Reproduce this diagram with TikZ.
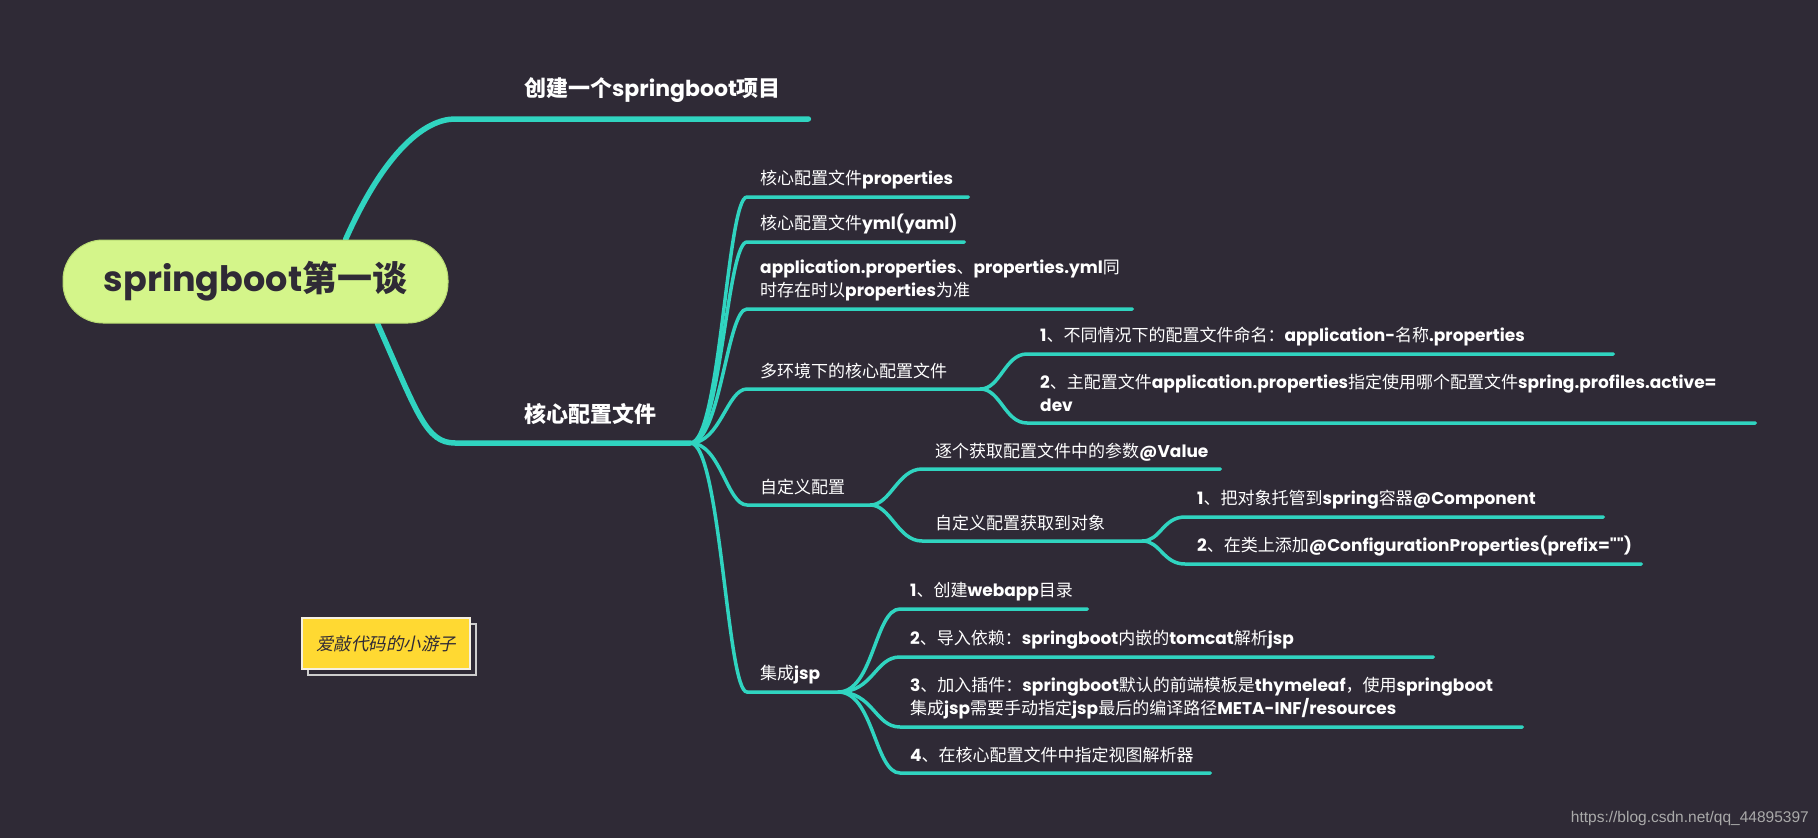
\documentclass[tikz,border=0pt]{standalone}
\usepackage{fontspec}
\setmainfont{Poppins}
\newfontfamily\rawpop{Poppins}[Ligatures=NoCommon]
\newfontfamily\zh{Noto Sans CJK SC}
\newfontfamily\zhit{Noto Sans CJK SC}[FakeSlant=0.2]
\newfontfamily\wmfont{Liberation Sans}
\pgfdeclarelayer{bg}
\pgfdeclarelayer{edges}
\pgfsetlayers{bg,edges,main}
\definecolor{bgcol}{RGB}{47,42,54}
\definecolor{teal}{RGB}{48,212,192}
\definecolor{rootgreen}{RGB}{212,245,138}
\definecolor{rootedge}{RGB}{185,220,115}
\definecolor{darktext}{RGB}{47,42,54}
\definecolor{noteyellow}{RGB}{255,217,50}
\definecolor{noteedge}{RGB}{245,240,225}
\definecolor{shadowgray}{RGB}{205,205,205}
\definecolor{wmgray}{RGB}{170,170,170}
\newcommand\Z[1]{{\zh\mdseries #1}}
\newcommand\ZB[1]{{\zh\bfseries #1}}
\newcommand\dpstrut{\vrule width 0pt height 0pt depth 4pt\relax}
\newcommand\sq{{\rawpop\symbol{34}}}
\hyphenpenalty=10000
\exhyphenpenalty=10000
\tikzset{
  mainconn/.style={draw=teal, line width=5.5pt, line cap=round},
  conn/.style={draw=teal, line width=3.5pt, line cap=round},
  sub/.style 2 args={anchor=south west, inner xsep=#1, text width=#2,
    inner ysep=7.5pt, align=left, text=white,
    font=\fontsize{17}{23}\selectfont\bfseries},
  maintopic/.style={anchor=south west, inner xsep=0pt, text width=#1,
    inner ysep=16pt, align=left, text=white,
    font=\fontsize{22}{26}\selectfont\bfseries},
  rootbox/.style={fill=rootgreen, draw=rootedge, line width=1pt, rounded corners=40pt,
    minimum width=385pt, minimum height=83pt, inner sep=0pt, text=darktext,
    font=\fontsize{35}{40}\selectfont\bfseries},
}
\begin{document}
\begin{tikzpicture}[x=1pt,y=-1pt]
\useasboundingbox (0,0) rectangle (1818,838);
\begin{pgfonlayer}{bg}
  \fill[bgcol] (0,0) rectangle (1818,838);
\end{pgfonlayer}

% root
\node[rootbox] (root) at (255.5,281.5) {springboot\ZB{第一谈}};

% main topics
\node[maintopic=353pt] (b1) at (455,119) {\hspace*{69pt}\ZB{创建一个}springboot\ZB{项目}\dpstrut};
\node[maintopic=235pt] (b2) at (455,443) {\hspace*{69pt}\ZB{核心配置文件}\dpstrut};

% level 1 under b2
\node[sub={13pt}{195pt}] (p1) at (747,197) {\Z{核心配置文件}properties\dpstrut};
\node[sub={13pt}{191pt}] (p2) at (747,242) {\Z{核心配置文件}yml(yaml)\dpstrut};
\node[sub={13pt}{359pt}] (p3) at (747,309) {application.properties\Z{、}properties.yml\Z{同}\\\Z{时存在时以}properties\Z{为准}\dpstrut};
\node[sub={13pt}{207pt}] (p4) at (747,389) {\Z{多环境下的核心配置文件}\dpstrut};
\node[sub={13pt}{97pt}] (p5) at (747,505) {\Z{自定义配置}\dpstrut};
\node[sub={13pt}{65pt}] (p6) at (747,692) {\Z{集成}jsp\dpstrut};

% under p4
\node[sub={13pt}{560pt}] (p4a) at (1027,354) {1\Z{、不同情况下的配置文件命名：}application-\Z{名称}.properties\dpstrut};
\node[sub={13pt}{702pt}] (p4b) at (1027,423) {2\Z{、主配置文件}application.properties\Z{指定使用哪个配置文件}spring.profiles.active=\\dev\dpstrut};

% under p5
\node[sub={13pt}{272pt}] (p5a) at (922,469) {\Z{逐个获取配置文件中的参数}@Value\dpstrut};
\node[sub={13pt}{194pt}] (p5b) at (922,541) {\Z{自定义配置获取到对象}\dpstrut};
\node[sub={12pt}{394pt}] (p5b1) at (1185,517) {1\Z{、把对象托管到}spring\Z{容器}@Component\dpstrut};
\node[sub={12pt}{432pt}] (p5b2) at (1185,564) {2\Z{、在类上添加}@ConfigurationProperties(prefix=\sq\sq)\dpstrut};

% under p6
\node[sub={10pt}{167pt}] (p6a) at (900,609) {1\Z{、创建}webapp\Z{目录}\dpstrut};
\node[sub={10pt}{513pt}] (p6b) at (900,657) {2\Z{、导入依赖：}springboot\Z{内嵌的}tomcat\Z{解析}jsp\dpstrut};
\node[sub={10pt}{602pt}] (p6c) at (900,727) {3\Z{、加入插件：}springboot\Z{默认的前端模板是}thymeleaf\Z{，使用}springboot\\\Z{集成}jsp\Z{需要手动指定}jsp\Z{最后的编译路径}META-INF/resources\dpstrut};
\node[sub={10pt}{290pt}] (p6d) at (900,773) {4\Z{、在核心配置文件中指定视图解析器}\dpstrut};

% sticky note
\node[draw=shadowgray, line width=1.3pt, minimum width=168pt, minimum height=51pt, inner sep=0pt] (noteshadow) at (392,649.5) {};
\node[fill=noteyellow, draw=noteedge, line width=1.3pt, minimum width=168pt, minimum height=51pt, inner sep=0pt, text=darktext, font=\zhit\fontsize{17.5}{20}\selectfont] (note) at (386,643.5) {爱敲代码的小游子};

% watermark
\node[anchor=east, inner sep=0pt, text=wmgray, font=\wmfont\fontsize{15.5}{17}\selectfont] (wm) at (1809,818) {https://blog.csdn.net/qq\_44895397};

\begin{pgfonlayer}{edges}
  \draw[mainconn] (root.25) .. controls +(40,-90) and +(-29,0) .. (b1.south west) -- (b1.south east);
  \draw[mainconn] (root.-19) .. controls +(40,90) and +(-29,0) .. (b2.south west) -- (b2.south east);
  \foreach \c in {p1,p2,p3,p4,p5,p6}{
    \draw[conn] (b2.south east) .. controls +(30,0) and +(-20,0) .. (\c.south west) -- (\c.south east);
  }
  \foreach \c in {p4a,p4b}{
    \draw[conn] (p4.south east) .. controls +(20,0) and +(-22,0) .. (\c.south west) -- (\c.south east);
  }
  \foreach \c in {p5a,p5b}{
    \draw[conn] (p5.south east) .. controls +(20,0) and +(-24,0) .. (\c.south west) -- (\c.south east);
  }
  \foreach \c in {p5b1,p5b2}{
    \draw[conn] (p5b.south east) .. controls +(18,0) and +(-22,0) .. (\c.south west) -- (\c.south east);
  }
  \foreach \c in {p6a,p6b,p6c,p6d}{
    \draw[conn] (p6.south east) .. controls +(35,0) and +(-25,0) .. (\c.south west) -- (\c.south east);
  }
\end{pgfonlayer}
\end{tikzpicture}
\end{document}
